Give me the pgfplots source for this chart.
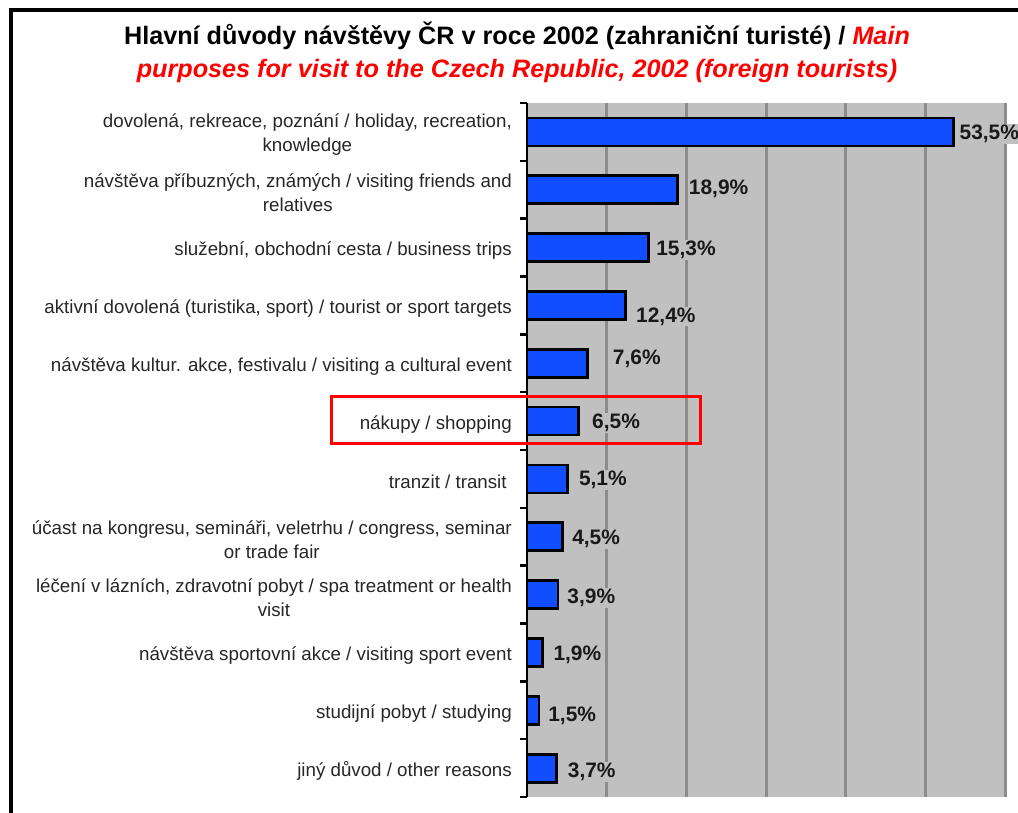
\documentclass[border=0pt]{standalone}
\usepackage{fontspec}
\setmainfont{Liberation Sans}
\usepackage{pgfplots}
\pgfplotsset{compat=1.18}
\usepackage{pgfplotstable}
\definecolor{bggray}{RGB}{192,192,192}
\definecolor{gridgray}{RGB}{140,140,140}
\definecolor{barblue}{RGB}{16,78,255}

\pgfplotstableread{
y x dx dy
0 53.5 4 -2
1 18.9 9 1
2 15.3 5 -2
3 12.4 8 -11
4 7.6 23 4
5 6.5 11 -2
6 5.1 9 -1
7 4.5 7 -2
8 3.9 7 -3
9 1.9 9 -2
10 1.5 7 -6
11 3.7 9 -4
}\datatable

\begin{document}
\begin{tikzpicture}
\path[use as bounding box] (0,0) rectangle (1018bp,-813bp);
\draw[line width=3.5bp] (11bp,-813bp) -- (11bp,-10bp) -- (1018bp,-10bp);
\begin{axis}[
 at={(527bp,-797bp)}, anchor=south west,
 scale only axis, width=478bp, height=694bp,
 xmin=0, xmax=60, ymin=-0.5, ymax=11.5, y dir=reverse,
 axis background/.style={fill=bggray},
 axis line style={draw=none},
 xtick={10,20,...,60}, xticklabels={}, xtick style={draw=none},
 xmajorgrids, major grid style={gridgray, line width=3bp},
 ytick={0,...,11}, ytick pos=left, major tick length=0pt,
 minor ytick={-0.5,0.5,...,11.5}, minor tick length=7bp, tick align=outside,
 minor y tick style={black, line width=2.5bp},
 yticklabels={
  {dovolená, rekreace, poznání / holiday, recreation,\\knowledge},
  {návštěva příbuzných, známých / visiting friends and\\relatives},
  {služební, obchodní cesta / business trips},
  {aktivní dovolená (turistika, sport) / tourist or sport targets},
  {návštěva kultur. akce, festivalu / visiting a cultural event},
  {nákupy / shopping},
  {tranzit / transit\ },
  {účast na kongresu, semináři, veletrhu / congress, seminar\\or trade fair},
  {léčení v lázních, zdravotní pobyt / spa treatment or health\\visit},
  {návštěva sportovní akce / visiting sport event},
  {studijní pobyt / studying},
  {jiný důvod / other reasons}
 },
 yticklabel style={font=\fontsize{18.8}{24}\selectfont, align=center, inner sep=0pt, xshift=-15bp, yshift=-3bp, text=black!85},
 clip=false,
]
\addplot[xbar, bar width=28bp, fill=barblue, draw=black, line width=2.8bp,
 point meta=x,
 visualization depends on={\thisrow{dx} \as \dx},
 visualization depends on={\thisrow{dy} \as \dy},
 nodes near coords={\pgfmathprintnumber[fixed,fixed zerofill,precision=1,use comma,assume math mode=true]{\pgfplotspointmeta}\%},
 nodes near coords style={font=\fontsize{21}{24}\selectfont\bfseries, anchor=west, inner sep=1bp, fill=bggray, xshift=\dx bp, yshift=\dy bp, text=black!90},
] table[x=x,y=y] {\datatable};
\draw[black, line width=2.5bp] (rel axis cs:0,0) -- (rel axis cs:0,1);
\end{axis}
\node[align=center, font=\fontsize{25.3}{33}\selectfont\bfseries] at (517bp,-52bp)
 {Hlavní důvody návštěvy ČR v roce 2002 (zahraniční turisté) / \textcolor{red}{\itshape Main}\\
  \textcolor{red}{\itshape purposes for visit to the Czech Republic, 2002 (foreign tourists)}};
\draw[red, line width=3bp] (331bp,-396bp) rectangle (700bp,-443bp);
\end{tikzpicture}
\end{document}
